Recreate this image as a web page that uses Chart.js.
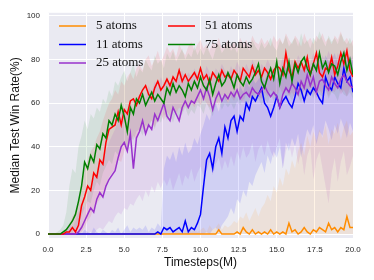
<!DOCTYPE html>
<html>
<head>
<meta charset="utf-8">
<script src="https://cdn.jsdelivr.net/npm/chart.js@4.4.0/dist/chart.umd.min.js"></script>
<style>
  html, body { margin: 0; padding: 0; background: #fff; }
  canvas { display: block; }
</style>
</head>
<body>
<canvas id="chart" width="374" height="280"></canvas>
<script>
// x positions, timesteps in millions
const timesteps = [
  0, 0.2, 0.4, 0.6, 0.8, 1, 1.2, 1.4, 1.6, 1.8,
  2, 2.2, 2.4, 2.6, 2.8, 3, 3.2, 3.4, 3.6, 3.8,
  4, 4.2, 4.4, 4.6, 4.8, 5, 5.2, 5.4, 5.6, 5.8,
  6, 6.2, 6.4, 6.6, 6.8, 7, 7.2, 7.4, 7.6, 7.8,
  8, 8.2, 8.4, 8.6, 8.8, 9, 9.2, 9.4, 9.6, 9.8,
  10, 10.2, 10.4, 10.6, 10.8, 11, 11.2, 11.4, 11.6, 11.8,
  12, 12.2, 12.4, 12.6, 12.8, 13, 13.2, 13.4, 13.6, 13.8,
  14, 14.2, 14.4, 14.6, 14.8, 15, 15.2, 15.4, 15.6, 15.8,
  16, 16.2, 16.4, 16.6, 16.8, 17, 17.2, 17.4, 17.6, 17.8,
  18, 18.2, 18.4, 18.6, 18.8, 19, 19.2, 19.4, 19.6, 19.8, 20
];
const xTicks = [0, 2.5, 5, 7.5, 10, 12.5, 15, 17.5, 20];
const yTicks = [0, 20, 40, 60, 80, 100];

const seriesLabels = ["5 atoms", "11 atoms", "25 atoms", "51 atoms", "75 atoms"];
const lineColors = ["#ff8c00", "#0000ff", "#9932cc", "#ff0000", "#008000"];
const bandColors = [
  "rgba(255,140,0,0.10)", "rgba(0,0,255,0.11)", "rgba(153,50,204,0.11)",
  "rgba(255,0,0,0.09)", "rgba(0,128,0,0.09)"
];

// median win rates
const median5 = [
  0, 0, 0, 0, 0, 0, 0, 0, 0, 0,
  0, 0, 0, 0, 0, 0, 0, 0, 0, 0,
  0, 0, 0, 0, 0, 0, 0, 0, 0, 0,
  0, 0, 0, 0, 0, 0, 0, 0, 0, 0,
  0, 0, 0, 0, 0, 0, 0, 0, 0, 0,
  0, 0, 0, 0, 0, 0, 2, 0, 0, 0,
  0, 0, 1, 0, 3, 1, 0, 2, 0, 1,
  0, 1, 0, 2, 0, 1, 0, 1, 0, 5,
  1, 2, 0, 1, 3, 1, 0, 2, 1, 3,
  2, 1, 5, 2, 3, 1, 3, 2, 8, 3, 3
];
const median11 = [
  0, 0, 0, 0, 0, 0, 0, 0, 0, 0,
  0, 0, 0, 0, 0, 0, 0, 0, 0, 0,
  0, 0, 0, 0, 0, 0, 0, 0, 0, 0,
  0, 0, 0, 0, 0, 0, 1, 0, 3, 2,
  3, 1, 2, 3, 1, 6, 1, 3, 2, 5,
  9, 22, 34, 37, 30, 40, 44, 37, 49, 44,
  52, 54, 47, 54, 52, 60, 57, 63, 61, 64,
  67, 60, 58, 54, 58, 63, 58, 61, 63, 60,
  58, 63, 69, 66, 61, 66, 64, 67, 65, 62,
  60, 72, 68, 66, 72, 69, 67, 76, 70, 72, 65
];
const median25 = [
  0, 0, 0, 0, 0, 0, 0, 0, 0, 0,
  1, 3, 6, 9, 12, 10, 16, 19, 17, 22,
  25, 27, 29, 35, 40, 42, 38, 46, 30, 44,
  47, 52, 46, 50, 48, 55, 52, 56, 60, 54,
  52, 58, 55, 52, 58, 61, 58, 61, 60, 63,
  66, 62, 67, 63, 57, 62, 65, 61, 64, 62,
  65, 63, 66, 62, 64, 65, 63, 67, 65, 64,
  66, 68, 65, 63, 65, 63, 58, 64, 67, 65,
  69, 67, 64, 70, 67, 73, 68, 72, 65, 70,
  71, 68, 66, 72, 69, 67, 71, 73, 70, 68, 67
];
const median51 = [
  0, 0, 0, 0, 0, 0, 1, 1, 3, 1,
  4, 13, 17, 22, 20, 28, 26, 34, 32, 42,
  48, 49, 50, 56, 50, 57, 55, 61, 62, 59,
  63, 66, 68, 64, 62, 67, 70, 66, 68, 71,
  68, 72, 70, 75, 70, 73, 70, 72, 74, 71,
  76, 71, 73, 69, 74, 72, 70, 75, 72, 73,
  71, 75, 73, 70, 76, 74, 72, 77, 73, 75,
  72, 76, 74, 71, 75, 77, 76, 73, 83, 75,
  72, 79, 76, 79, 75, 81, 73, 78, 83, 74,
  72, 76, 75, 81, 73, 77, 83, 78, 84, 75, 72
];
const median75 = [
  0, 0, 0, 0, 0, 1, 2, 4, 6, 9,
  15, 22, 33, 30, 36, 33, 41, 39, 46, 44,
  52, 50, 55, 52, 59, 54, 47, 58, 55, 62,
  60, 64, 59, 62, 65, 61, 64, 62, 60, 67,
  64, 69, 65, 68, 66, 63, 69, 66, 70, 67,
  72, 68, 66, 71, 64, 69, 73, 68, 70, 74,
  71, 67, 73, 70, 68, 72, 69, 71, 74, 78,
  70, 67, 72, 76, 71, 79, 69, 76, 72, 79,
  70, 78, 74, 79, 81, 76, 73, 78, 75, 83,
  76, 79, 74, 78, 77, 73, 79, 83, 75, 80, 73
];

// shaded spread around each median
const lower5 = [
  0, 0, 0, 0, 0, 0, 0, 0, 0, 0,
  0, 0, 0, 0, 0, 0, 0, 0, 0, 0,
  0, 0, 0, 0, 0, 0, 0, 0, 0, 0,
  0, 0, 0, 0, 0, 0, 0, 0, 0, 0,
  0, 0, 0, 0, 0, 0, 0, 0, 0, 0,
  0, 0, 0, 0, 0, 0, 0, 0, 0, 0,
  0, 0, 0, 0, 0, 0, 0, 0, 0, 0,
  0, 0, 0, 0, 0, 0, 0, 0, 0, 0,
  0, 0, 0, 0, 0, 0, 0, 0, 0, 0,
  0, 0, 0, 0, 0, 0, 0, 0, 0, 0, 0
];
const upper5 = [
  0, 0, 0, 0, 0, 0, 0, 0, 0, 0,
  0, 0, 0, 0, 0, 0, 0, 0, 0, 0,
  0, 0, 0, 0, 0, 0, 0, 0, 0, 0,
  0, 0, 0, 0, 0, 0, 0, 0, 0, 0,
  0, 1, 2, 1, 0, 2, 3, 1, 2, 1,
  2, 3, 1, 4, 2, 3, 5, 2, 4, 3,
  4, 6, 5, 8, 7, 10, 6, 9, 12, 8,
  12, 14, 18, 15, 22, 19, 26, 22, 30, 27,
  34, 30, 38, 42, 36, 45, 40, 47, 43, 48,
  44, 50, 41, 48, 46, 51, 43, 49, 52, 45, 47
];
const lower11 = [
  0, 0, 0, 0, 0, 0, 0, 0, 0, 0,
  0, 0, 0, 0, 0, 0, 0, 0, 0, 0,
  0, 0, 0, 0, 0, 0, 0, 0, 0, 0,
  0, 0, 0, 0, 0, 0, 0, 0, 0, 0,
  0, 0, 0, 0, 0, 0, 0, 0, 0, 0,
  0, 0, 1, 0, 2, 3, 1, 4, 6, 8,
  12, 9, 16, 14, 20, 17, 24, 22, 27, 30,
  33, 28, 36, 32, 38, 35, 40, 30, 42, 38,
  44, 40, 46, 35, 42, 48, 45, 50, 41, 47,
  45, 52, 48, 43, 50, 46, 53, 49, 44, 51, 47
];
const upper11 = [
  0, 0, 0, 0, 0, 0, 0, 0, 1, 0,
  1, 0, 2, 1, 0, 3, 1, 0, 2, 1,
  0, 2, 1, 3, 0, 2, 4, 1, 3, 2,
  3, 2, 4, 1, 3, 2, 5, 3, 30, 36,
  34, 38, 33, 40, 36, 42, 37, 39, 44, 41,
  46, 50, 55, 52, 58, 60, 56, 62, 64, 60,
  63, 66, 62, 68, 65, 70, 67, 72, 69, 71,
  73, 70, 74, 72, 76, 71, 75, 73, 77, 74,
  76, 73, 78, 75, 77, 80, 76, 79, 77, 81,
  78, 82, 79, 80, 83, 78, 81, 84, 80, 82, 79
];
const lower25 = [
  0, 0, 0, 0, 0, 0, 0, 0, 0, 0,
  0, 0, 0, 0, 1, 0, 2, 3, 2, 4,
  6, 5, 8, 10, 9, 12, 11, 14, 13, 16,
  18, 15, 20, 17, 22, 19, 24, 21, 25, 22,
  26, 20, 24, 28, 22, 27, 25, 30, 24, 28,
  31, 26, 29, 33, 27, 32, 35, 29, 34, 30,
  36, 31, 38, 34, 40, 35, 37, 42, 33, 39,
  41, 36, 43, 38, 35, 40, 44, 30, 38, 42,
  35, 41, 32, 38, 27, 36, 40, 25, 34, 38,
  30, 22, 14, 28, 35, 24, 33, 38, 27, 31, 36
];
const upper25 = [
  0, 0, 0, 0, 0, 0, 2, 5, 3, 6,
  10, 14, 12, 18, 22, 26, 28, 32, 35, 38,
  42, 45, 48, 52, 55, 58, 56, 60, 57, 62,
  64, 66, 62, 68, 65, 70, 67, 72, 69, 71,
  68, 73, 70, 72, 75, 71, 74, 72, 76, 73,
  75, 72, 77, 74, 71, 76, 74, 78, 75, 73,
  77, 74, 79, 76, 73, 78, 75, 80, 77, 74,
  78, 76, 80, 77, 75, 79, 76, 81, 78, 76,
  80, 77, 82, 79, 76, 81, 78, 83, 80, 77,
  82, 79, 84, 80, 78, 83, 80, 85, 81, 79, 82
];
const lower51 = [
  0, 0, 0, 0, 0, 0, 0, 0, 0, 0,
  0, 1, 3, 6, 8, 12, 14, 16, 19, 22,
  26, 28, 30, 34, 33, 38, 40, 42, 45, 43,
  47, 49, 46, 50, 52, 49, 53, 55, 52, 56,
  54, 57, 55, 58, 56, 59, 57, 60, 58, 61,
  59, 62, 60, 58, 63, 61, 59, 64, 62, 60,
  63, 61, 64, 62, 60, 65, 63, 61, 66, 63,
  62, 65, 63, 66, 64, 62, 67, 64, 66, 63,
  65, 62, 67, 64, 66, 63, 68, 65, 62, 66,
  64, 67, 63, 66, 65, 68, 64, 66, 63, 67, 64
];
const upper51 = [
  0, 0, 0, 0, 0, 1, 2, 4, 8, 10,
  15, 24, 30, 34, 38, 40, 44, 47, 52, 56,
  60, 62, 66, 64, 70, 68, 72, 74, 71, 76,
  78, 75, 80, 82, 77, 80, 84, 79, 82, 86,
  83, 85, 81, 87, 84, 82, 86, 88, 84, 87,
  89, 85, 87, 84, 88, 86, 90, 85, 87, 89,
  86, 88, 85, 90, 87, 89, 86, 91, 88, 87,
  90, 87, 89, 86, 91, 88, 90, 87, 92, 89,
  87, 91, 89, 86, 92, 88, 90, 87, 91, 89,
  92, 88, 90, 87, 91, 89, 93, 88, 90, 87, 89
];
const lower75 = [
  0, 0, 0, 0, 0, 0, 0, 0, 1, 2,
  5, 8, 12, 15, 14, 20, 24, 22, 28, 31,
  34, 32, 38, 36, 40, 42, 38, 44, 43, 47,
  48, 45, 50, 49, 52, 48, 53, 51, 55, 52,
  54, 51, 56, 53, 55, 58, 54, 57, 55, 59,
  58, 55, 60, 57, 54, 59, 61, 57, 60, 58,
  60, 57, 61, 59, 62, 58, 61, 63, 60, 62,
  59, 62, 60, 64, 61, 63, 60, 65, 62, 64,
  61, 65, 63, 60, 66, 63, 65, 62, 67, 64,
  63, 66, 62, 65, 64, 61, 66, 64, 63, 65, 62
];
const upper75 = [
  0, 0, 0, 1, 2, 4, 10, 22, 30, 28,
  40, 45, 52, 48, 55, 53, 58, 56, 62, 60,
  66, 63, 70, 68, 72, 75, 70, 74, 78, 72,
  76, 74, 80, 77, 75, 82, 78, 80, 76, 83,
  80, 84, 79, 82, 85, 80, 83, 81, 86, 82,
  85, 82, 86, 83, 80, 85, 87, 83, 85, 88,
  84, 86, 83, 88, 85, 87, 84, 89, 86, 84,
  88, 85, 87, 90, 86, 84, 89, 87, 91, 86,
  88, 90, 86, 92, 87, 89, 85, 90, 88, 93,
  89, 86, 91, 88, 90, 87, 92, 89, 87, 90, 86
];

const medians = [median5, median11, median25, median51, median75];
const lowers = [lower5, lower11, lower25, lower51, lower75];
const uppers = [upper5, upper11, upper25, upper51, upper75];

const toPoints = (ys) => ys.map((y, i) => ({ x: timesteps[i], y: y }));

const datasets = [];
// median lines, later series drawn on top (lower order = on top)
medians.forEach((ys, s) => {
  datasets.push({
    label: seriesLabels[s],
    data: toPoints(ys),
    borderColor: lineColors[s],
    borderWidth: 1.5,
    pointRadius: 0,
    fill: false,
    order: 4 - s,
  });
});
// spread bands: an invisible lower edge and an upper edge filled down to it
lowers.forEach((ys, s) => {
  const lowIndex = datasets.length;
  datasets.push({
    label: seriesLabels[s] + " low",
    data: toPoints(ys),
    borderColor: "rgba(0,0,0,0)",
    borderWidth: 1,
    pointRadius: 0,
    fill: false,
    order: 20,
  });
  datasets.push({
    label: seriesLabels[s] + " high",
    data: toPoints(uppers[s]),
    borderColor: "rgba(0,0,0,0)",
    borderWidth: 1,
    pointRadius: 0,
    backgroundColor: bandColors[s],
    fill: { target: lowIndex },
    order: 20,
  });
});

const plotBackground = {
  id: "plotBackground",
  beforeDraw(chart) {
    const { ctx, chartArea: a } = chart;
    ctx.save();
    ctx.fillStyle = "#eaeaf2";
    ctx.fillRect(a.left, a.top, a.right - a.left, a.bottom - a.top);
    ctx.restore();
  },
};

// two-column legend inside the plot, like the matplotlib one
const atomLegend = {
  id: "atomLegend",
  afterDraw(chart) {
    const ctx = chart.ctx;
    const columns = [[0, 1, 2], [3, 4]];
    ctx.save();
    ctx.font = '13px "Liberation Serif", "Times New Roman", serif';
    ctx.textBaseline = "middle";
    columns.forEach((col, c) => {
      col.forEach((s, r) => {
        const x = 59 + c * 109;
        const y = 26 + r * 18.5;
        ctx.strokeStyle = lineColors[s];
        ctx.lineWidth = 1.5;
        ctx.beginPath();
        ctx.moveTo(x, y);
        ctx.lineTo(x + 27, y);
        ctx.stroke();
        ctx.fillStyle = "#111";
        ctx.fillText(seriesLabels[s], x + 37, y);
      });
    });
    ctx.restore();
  },
};

Chart.defaults.font.family = '"Liberation Sans", Arial, sans-serif';
Chart.defaults.color = "#262626";

new Chart(document.getElementById("chart"), {
  type: "line",
  data: { datasets: datasets },
  options: {
    responsive: false,
    animation: false,
    events: [],
    layout: { padding: { left: 0, right: 21, top: 12, bottom: 0 } },
    elements: { line: { tension: 0 } },
    plugins: {
      legend: { display: false },
      tooltip: { enabled: false },
      filler: { propagate: false },
    },
    scales: {
      x: {
        type: "linear",
        min: 0,
        max: 20,
        afterBuildTicks: (scale) => {
          scale.ticks = xTicks.map((v) => ({ value: v }));
        },
        afterFit: (scale) => {
          scale.height = 42;
        },
        ticks: {
          font: { size: 8 },
          padding: 7,
          maxRotation: 0,
          callback: (v) => Number(v).toFixed(1),
        },
        grid: { color: "#ffffff", lineWidth: 1, drawTicks: false },
        border: { display: false },
        title: {
          display: true,
          text: "Timesteps(M)",
          font: { size: 12 },
          color: "#111",
          padding: { top: 0, bottom: 10 },
        },
      },
      y: {
        min: -1.8,
        max: 101.4,
        afterBuildTicks: (scale) => {
          scale.ticks = yTicks.map((v) => ({ value: v }));
        },
        afterFit: (scale) => {
          scale.width = 48;
        },
        ticks: { font: { size: 8 }, padding: 8 },
        grid: { color: "#ffffff", lineWidth: 1, drawTicks: false },
        border: { display: false },
        title: {
          display: true,
          text: "Median Test Win Rate(%)",
          font: { size: 12 },
          color: "#111",
          padding: { top: 8, bottom: 0 },
        },
      },
    },
  },
  plugins: [plotBackground, atomLegend],
});
</script>
</body>
</html>
